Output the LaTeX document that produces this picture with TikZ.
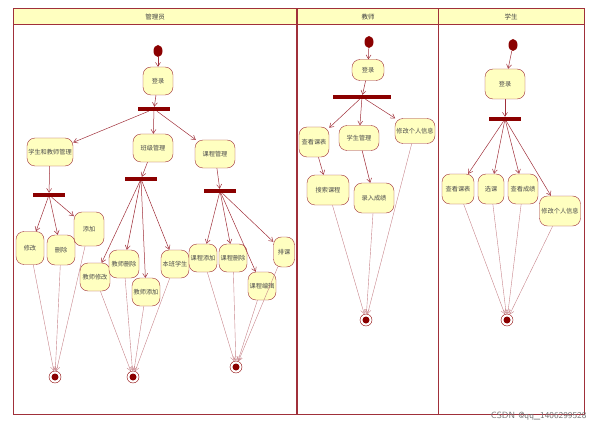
\documentclass[tikz,border=0pt]{standalone}
\usepackage{fontspec}
\newfontfamily\cjk{Noto Sans CJK SC}
\usetikzlibrary{arrows.meta,shapes.geometric}
\definecolor{dred}{HTML}{8B0000}
\definecolor{lred}{HTML}{A0303A}
\definecolor{fillc}{HTML}{FFFFC0}
\begin{document}
\begin{tikzpicture}[x=1pt,y=-1pt,
 act/.style={draw=lred,fill=fillc,rounded corners=8pt,minimum width=#1,minimum height=28pt,inner sep=0.5pt,font=\cjk\fontsize{6.2}{7}\selectfont,text=black!70},
 act/.default=30pt,
 bar/.style={fill=dred,minimum height=4pt,inner sep=0pt,minimum width=#1},
 start/.style={fill=dred,ellipse,minimum width=9pt,minimum height=12pt,inner sep=0pt},
 fin/.style={circle,draw=dred,fill=white,minimum size=12pt,inner sep=0pt,path picture={\fill[dred] (path picture bounding box.center) circle (3.5pt);}},
 e/.style={draw=lred,-{Straight Barb[length=4pt,width=5pt]},line width=0.5pt},
 f/.style={draw=lred!60,-{Straight Barb[length=4pt,width=5pt]},line width=0.4pt}]
\useasboundingbox (0,0) rectangle (605,433);
% frame
\draw[lred,line width=1pt,fill=fillc] (13,9) rectangle (584,25);
\draw[lred,line width=1pt] (13,25) rectangle (584,414);
\draw[lred,line width=1.2pt] (297,9) -- (297,414);
\draw[lred,line width=1pt] (438,9) -- (438,414);
\node[font=\cjk\fontsize{6.5}{7}\selectfont,text=black!75] (h1) at (155,17) {管理员};
\node[font=\cjk\fontsize{6.5}{7}\selectfont,text=black!75] (h2) at (368,17) {教师};
\node[font=\cjk\fontsize{6.5}{7}\selectfont,text=black!75] (h3) at (511,17) {学生};
% admin
\node[start] (s1) at (158,51) {};
\node[act] (a0) at (158,81) {登录};
\node[bar=32pt] (b1) at (154,109) {};
\node[act=46pt] (a1) at (50,152) {学生和教师管理};
\node[act=40pt] (a2) at (153,148) {班级管理};
\node[act=40pt] (a3) at (215,154) {课程管理};
\node[bar=32pt] (b2) at (49,195) {};
\node[bar=32pt] (b3) at (141,179) {};
\node[bar=32pt] (b4) at (220,191) {};
\node[act=28pt,minimum height=33pt] (m1) at (30,248) {修改};
\node[act=28pt,minimum height=30pt] (m2) at (61,250) {删除};
\node[act=30pt,minimum height=34pt] (m3) at (89,229) {添加};
\node[act=30pt] (t1) at (95,277) {教师修改};
\node[act=30pt] (t2) at (124,264) {教师删除};
\node[act=28pt] (t3) at (146,292) {教师添加};
\node[act=28pt] (t4) at (175,264) {本班学生};
\node[act=28pt] (c1) at (203,258) {课程添加};
\node[act=28pt] (c2) at (233,258) {课程删除};
\node[act=28pt] (c3) at (262,286) {课程编辑};
\node[act=21pt,minimum height=30pt] (c4) at (284,252) {排课};
\node[fin] (e1) at (55,377) {};
\node[fin] (e2) at (133,377) {};
\node[fin] (e3) at (236,367) {};
\draw[e] (s1)--(a0); \draw[e] (a0)--(b1);
\draw[e] (b1)--(a1); \draw[e] (b1)--(a2); \draw[e] (b1)--(a3);
\draw[e] (a1)--(b2); \draw[e] (a2)--(b3); \draw[e] (a3)--(b4);
\draw[e] (b2)--(m1); \draw[e] (b2)--(m2); \draw[e] (b2)--(m3);
\draw[e] (b3)--(t1); \draw[e] (b3)--(t2); \draw[e] (b3)--(t3); \draw[e] (b3)--(t4);
\draw[e] (b4)--(c1); \draw[e] (b4)--(c2); \draw[e] (b4)--(c3); \draw[e] (b4)--(c4);
\foreach \n in {m1,m2,m3} \draw[f] (\n)--(e1);
\foreach \n in {t1,t2,t3,t4} \draw[f] (\n)--(e2);
\foreach \n in {c1,c2,c3,c4} \draw[f] (\n)--(e3);
% teacher
\node[start] (s2) at (369,42) {};
\node[act=32pt,minimum height=21pt] (p0) at (368,70) {登录};
\node[bar=58pt] (b5) at (362,97) {};
\node[act=30pt,minimum height=30pt] (p1) at (314,142) {查看课表};
\node[act=40pt,minimum height=25pt] (p2) at (359,138) {学生管理};
\node[act=40pt,minimum height=25pt] (p3) at (415,131) {修改个人信息};
\node[act=42pt,minimum height=30pt] (p4) at (328,190) {搜索课程};
\node[act=40pt,minimum height=30pt] (p5) at (374,198) {录入成绩};
\node[fin] (e4) at (366,320) {};
\draw[e] (s2)--(p0); \draw[e] (p0)--(b5);
\draw[e] (b5)--(p1); \draw[e] (b5)--(p2); \draw[e] (b5)--(p3);
\draw[e] (p1)--(p4); \draw[e] (p2)--(p5);
\foreach \n in {p3,p4,p5} \draw[f] (\n)--(e4);
% student
\node[start] (s3) at (513,45) {};
\node[act=40pt,minimum height=30pt] (q0) at (505,84) {登录};
\node[bar=32pt] (b6) at (505,119) {};
\node[act=32pt,minimum height=30pt] (q1) at (458,189) {查看课表};
\node[act=26pt,minimum height=30pt] (q2) at (491,189) {选课};
\node[act=30pt,minimum height=30pt] (q3) at (523,189) {查看成绩};
\node[act=41pt,minimum height=30pt] (q4) at (560,211) {修改个人信息};
\node[fin] (e5) at (507,320) {};
\draw[e] (s3)--(q0); \draw[e] (q0)--(b6);
\foreach \n in {q1,q2,q3,q4} {\draw[e] (b6)--(\n); \draw[f] (\n)--(e5);}
\node[font=\sffamily\fontsize{9}{10}\selectfont,text=black!55,anchor=east] (wm) at (590,416) {CSDN @qq\_1406299528};
\end{tikzpicture}
\end{document}
